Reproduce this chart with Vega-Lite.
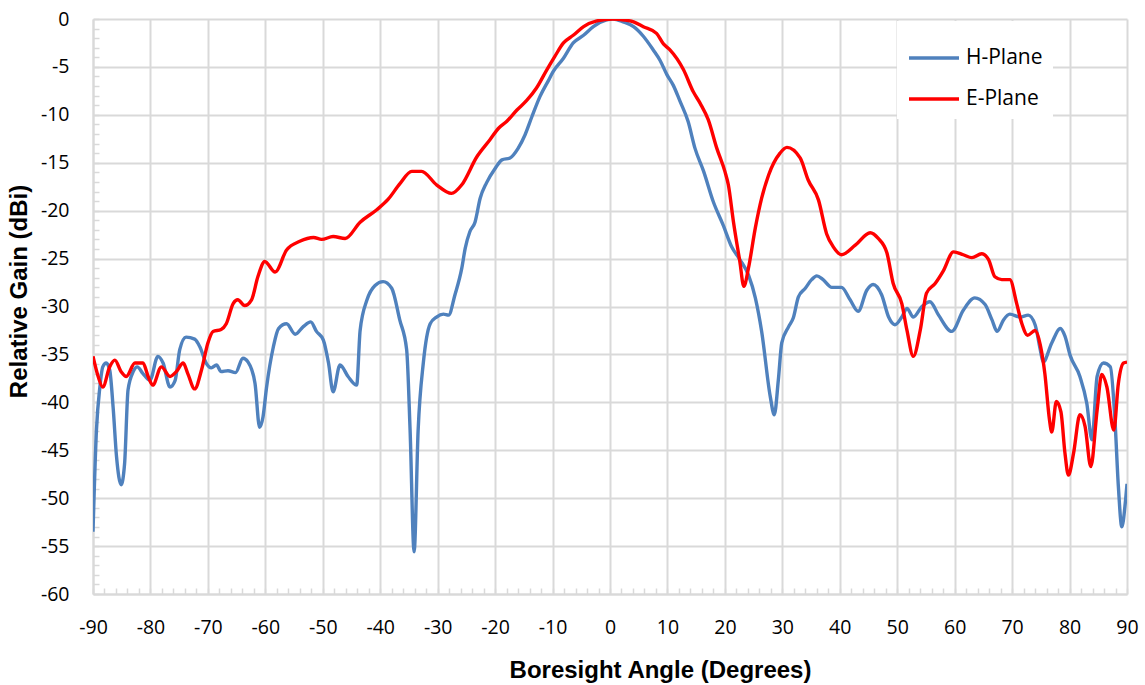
{
  "$schema": "https://vega.github.io/schema/vega-lite/v6.json",
  "width": 1034,
  "height": 575,
  "autosize": "none",
  "padding": {"left": 93, "top": 19, "right": 18, "bottom": 91},
  "background": "white",
  "config": {"view": {"stroke": null}, "font": "Open Sans"},
  "data": {"values": [
      {"plane": "H-Plane", "angle": -90, "gain": -53.5}, {"plane": "H-Plane", "angle": -89.4, "gain": -42.9}, {"plane": "H-Plane", "angle": -88.8, "gain": -38.4}, {"plane": "H-Plane", "angle": -88.3, "gain": -36.3},
      {"plane": "H-Plane", "angle": -87.7, "gain": -35.9}, {"plane": "H-Plane", "angle": -87.1, "gain": -36.6}, {"plane": "H-Plane", "angle": -86.5, "gain": -40.5}, {"plane": "H-Plane", "angle": -85.9, "gain": -45.7},
      {"plane": "H-Plane", "angle": -85.1, "gain": -48.6}, {"plane": "H-Plane", "angle": -84.5, "gain": -46.4}, {"plane": "H-Plane", "angle": -83.9, "gain": -38.7}, {"plane": "H-Plane", "angle": -83.0, "gain": -36.8},
      {"plane": "H-Plane", "angle": -82.3, "gain": -36.3}, {"plane": "H-Plane", "angle": -81.3, "gain": -37.0}, {"plane": "H-Plane", "angle": -80.1, "gain": -37.7}, {"plane": "H-Plane", "angle": -78.7, "gain": -35.2},
      {"plane": "H-Plane", "angle": -77.8, "gain": -35.9}, {"plane": "H-Plane", "angle": -76.6, "gain": -38.4}, {"plane": "H-Plane", "angle": -75.7, "gain": -37.7}, {"plane": "H-Plane", "angle": -74.9, "gain": -34.5},
      {"plane": "H-Plane", "angle": -73.8, "gain": -33.2}, {"plane": "H-Plane", "angle": -72.3, "gain": -33.4}, {"plane": "H-Plane", "angle": -71.4, "gain": -34.2}, {"plane": "H-Plane", "angle": -70.3, "gain": -35.9},
      {"plane": "H-Plane", "angle": -69.4, "gain": -36.4}, {"plane": "H-Plane", "angle": -68.5, "gain": -36.1}, {"plane": "H-Plane", "angle": -67.7, "gain": -36.8}, {"plane": "H-Plane", "angle": -66.5, "gain": -36.7},
      {"plane": "H-Plane", "angle": -65.2, "gain": -36.9}, {"plane": "H-Plane", "angle": -63.9, "gain": -35.4}, {"plane": "H-Plane", "angle": -63.0, "gain": -35.8}, {"plane": "H-Plane", "angle": -61.8, "gain": -38.0},
      {"plane": "H-Plane", "angle": -61.0, "gain": -42.6}, {"plane": "H-Plane", "angle": -60.4, "gain": -41.5}, {"plane": "H-Plane", "angle": -59.8, "gain": -38.5}, {"plane": "H-Plane", "angle": -58.6, "gain": -34.2},
      {"plane": "H-Plane", "angle": -57.7, "gain": -32.3}, {"plane": "H-Plane", "angle": -56.3, "gain": -31.8}, {"plane": "H-Plane", "angle": -54.8, "gain": -32.9}, {"plane": "H-Plane", "angle": -53.4, "gain": -32.1},
      {"plane": "H-Plane", "angle": -52.1, "gain": -31.6}, {"plane": "H-Plane", "angle": -51.1, "gain": -32.6}, {"plane": "H-Plane", "angle": -49.9, "gain": -33.5}, {"plane": "H-Plane", "angle": -49.0, "gain": -35.9},
      {"plane": "H-Plane", "angle": -48.2, "gain": -38.9}, {"plane": "H-Plane", "angle": -47.0, "gain": -36.1}, {"plane": "H-Plane", "angle": -45.6, "gain": -37.3}, {"plane": "H-Plane", "angle": -44.1, "gain": -38.2},
      {"plane": "H-Plane", "angle": -43.5, "gain": -32.5}, {"plane": "H-Plane", "angle": -42.3, "gain": -29.3}, {"plane": "H-Plane", "angle": -40.9, "gain": -27.8}, {"plane": "H-Plane", "angle": -39.5, "gain": -27.4},
      {"plane": "H-Plane", "angle": -38.0, "gain": -28.1}, {"plane": "H-Plane", "angle": -36.6, "gain": -31.4}, {"plane": "H-Plane", "angle": -35.4, "gain": -34.5}, {"plane": "H-Plane", "angle": -34.8, "gain": -42.9},
      {"plane": "H-Plane", "angle": -34.1, "gain": -55.6}, {"plane": "H-Plane", "angle": -33.4, "gain": -42.9}, {"plane": "H-Plane", "angle": -32.5, "gain": -35.9}, {"plane": "H-Plane", "angle": -31.3, "gain": -31.8},
      {"plane": "H-Plane", "angle": -30.2, "gain": -31.1}, {"plane": "H-Plane", "angle": -29.0, "gain": -30.8}, {"plane": "H-Plane", "angle": -28.1, "gain": -30.9}, {"plane": "H-Plane", "angle": -27.0, "gain": -28.8},
      {"plane": "H-Plane", "angle": -25.8, "gain": -26.0}, {"plane": "H-Plane", "angle": -25.2, "gain": -23.9}, {"plane": "H-Plane", "angle": -24.4, "gain": -22.2}, {"plane": "H-Plane", "angle": -23.5, "gain": -21.2},
      {"plane": "H-Plane", "angle": -22.6, "gain": -18.7}, {"plane": "H-Plane", "angle": -21.5, "gain": -17.1}, {"plane": "H-Plane", "angle": -20.0, "gain": -15.6}, {"plane": "H-Plane", "angle": -18.8, "gain": -14.7},
      {"plane": "H-Plane", "angle": -17.4, "gain": -14.5}, {"plane": "H-Plane", "angle": -16.0, "gain": -13.5}, {"plane": "H-Plane", "angle": -14.8, "gain": -12.1}, {"plane": "H-Plane", "angle": -13.6, "gain": -10.2},
      {"plane": "H-Plane", "angle": -12.2, "gain": -8.1}, {"plane": "H-Plane", "angle": -10.7, "gain": -6.4}, {"plane": "H-Plane", "angle": -9.9, "gain": -5.5}, {"plane": "H-Plane", "angle": -8.1, "gain": -4.1},
      {"plane": "H-Plane", "angle": -6.4, "gain": -2.5}, {"plane": "H-Plane", "angle": -4.6, "gain": -1.7}, {"plane": "H-Plane", "angle": -2.9, "gain": -0.8}, {"plane": "H-Plane", "angle": -0.6, "gain": -0.1},
      {"plane": "H-Plane", "angle": 0.5, "gain": 0}, {"plane": "H-Plane", "angle": 2.3, "gain": -0.3}, {"plane": "H-Plane", "angle": 4.1, "gain": -0.8}, {"plane": "H-Plane", "angle": 5.8, "gain": -1.8},
      {"plane": "H-Plane", "angle": 7.5, "gain": -3.2}, {"plane": "H-Plane", "angle": 8.7, "gain": -4.3}, {"plane": "H-Plane", "angle": 9.9, "gain": -5.8}, {"plane": "H-Plane", "angle": 11.0, "gain": -6.9},
      {"plane": "H-Plane", "angle": 12.2, "gain": -8.6}, {"plane": "H-Plane", "angle": 13.6, "gain": -10.7}, {"plane": "H-Plane", "angle": 14.8, "gain": -13.5}, {"plane": "H-Plane", "angle": 16.3, "gain": -15.9},
      {"plane": "H-Plane", "angle": 18.0, "gain": -19.1}, {"plane": "H-Plane", "angle": 19.7, "gain": -21.5}, {"plane": "H-Plane", "angle": 21.2, "gain": -23.8}, {"plane": "H-Plane", "angle": 22.6, "gain": -25.1},
      {"plane": "H-Plane", "angle": 24.1, "gain": -26.7}, {"plane": "H-Plane", "angle": 25.3, "gain": -29.1}, {"plane": "H-Plane", "angle": 26.4, "gain": -32.6}, {"plane": "H-Plane", "angle": 27.9, "gain": -39.4},
      {"plane": "H-Plane", "angle": 28.6, "gain": -41.3}, {"plane": "H-Plane", "angle": 29.3, "gain": -37.7}, {"plane": "H-Plane", "angle": 29.9, "gain": -33.8}, {"plane": "H-Plane", "angle": 31.1, "gain": -32.1},
      {"plane": "H-Plane", "angle": 31.9, "gain": -31.2}, {"plane": "H-Plane", "angle": 32.8, "gain": -29.0}, {"plane": "H-Plane", "angle": 34.0, "gain": -28.1}, {"plane": "H-Plane", "angle": 35.1, "gain": -27.2},
      {"plane": "H-Plane", "angle": 36.0, "gain": -26.8}, {"plane": "H-Plane", "angle": 37.1, "gain": -27.2}, {"plane": "H-Plane", "angle": 38.6, "gain": -28.0}, {"plane": "H-Plane", "angle": 40.3, "gain": -28.0},
      {"plane": "H-Plane", "angle": 41.8, "gain": -29.3}, {"plane": "H-Plane", "angle": 43.2, "gain": -30.5}, {"plane": "H-Plane", "angle": 44.7, "gain": -28.3}, {"plane": "H-Plane", "angle": 45.8, "gain": -27.7},
      {"plane": "H-Plane", "angle": 47.3, "gain": -28.8}, {"plane": "H-Plane", "angle": 48.5, "gain": -31.1}, {"plane": "H-Plane", "angle": 49.6, "gain": -31.9}, {"plane": "H-Plane", "angle": 50.8, "gain": -31.1},
      {"plane": "H-Plane", "angle": 51.7, "gain": -30.2}, {"plane": "H-Plane", "angle": 52.8, "gain": -31.1}, {"plane": "H-Plane", "angle": 54.3, "gain": -30.0}, {"plane": "H-Plane", "angle": 55.7, "gain": -29.5},
      {"plane": "H-Plane", "angle": 57.2, "gain": -30.9}, {"plane": "H-Plane", "angle": 59.5, "gain": -32.6}, {"plane": "H-Plane", "angle": 61.5, "gain": -30.4}, {"plane": "H-Plane", "angle": 63.5, "gain": -29.1},
      {"plane": "H-Plane", "angle": 65.3, "gain": -29.8}, {"plane": "H-Plane", "angle": 66.5, "gain": -31.4}, {"plane": "H-Plane", "angle": 67.4, "gain": -32.6}, {"plane": "H-Plane", "angle": 68.5, "gain": -31.4},
      {"plane": "H-Plane", "angle": 69.6, "gain": -30.8}, {"plane": "H-Plane", "angle": 71.4, "gain": -31.1}, {"plane": "H-Plane", "angle": 72.8, "gain": -30.9}, {"plane": "H-Plane", "angle": 74.0, "gain": -31.9},
      {"plane": "H-Plane", "angle": 74.9, "gain": -34.5}, {"plane": "H-Plane", "angle": 75.4, "gain": -35.8}, {"plane": "H-Plane", "angle": 76.9, "gain": -33.8}, {"plane": "H-Plane", "angle": 78.4, "gain": -32.3},
      {"plane": "H-Plane", "angle": 79.2, "gain": -33.1}, {"plane": "H-Plane", "angle": 80.1, "gain": -35.1}, {"plane": "H-Plane", "angle": 81.8, "gain": -37.3}, {"plane": "H-Plane", "angle": 83.0, "gain": -40.1},
      {"plane": "H-Plane", "angle": 83.9, "gain": -43.9}, {"plane": "H-Plane", "angle": 84.8, "gain": -37.3}, {"plane": "H-Plane", "angle": 85.9, "gain": -35.9}, {"plane": "H-Plane", "angle": 87.1, "gain": -36.3},
      {"plane": "H-Plane", "angle": 87.9, "gain": -41.8}, {"plane": "H-Plane", "angle": 88.5, "gain": -48.8}, {"plane": "H-Plane", "angle": 89.1, "gain": -53.0}, {"plane": "H-Plane", "angle": 89.7, "gain": -50.5},
      {"plane": "H-Plane", "angle": 90.0, "gain": -48.5},
      {"plane": "E-Plane", "angle": -90, "gain": -35.2}, {"plane": "E-Plane", "angle": -89.1, "gain": -37.3}, {"plane": "E-Plane", "angle": -88.3, "gain": -38.4}, {"plane": "E-Plane", "angle": -87.1, "gain": -36.3},
      {"plane": "E-Plane", "angle": -86.2, "gain": -35.6}, {"plane": "E-Plane", "angle": -85.1, "gain": -36.8}, {"plane": "E-Plane", "angle": -84.2, "gain": -37.3}, {"plane": "E-Plane", "angle": -82.7, "gain": -35.9},
      {"plane": "E-Plane", "angle": -81.3, "gain": -35.9}, {"plane": "E-Plane", "angle": -80.4, "gain": -37.3}, {"plane": "E-Plane", "angle": -79.6, "gain": -38.2}, {"plane": "E-Plane", "angle": -78.1, "gain": -36.3},
      {"plane": "E-Plane", "angle": -76.6, "gain": -37.3}, {"plane": "E-Plane", "angle": -75.5, "gain": -36.8}, {"plane": "E-Plane", "angle": -74.3, "gain": -35.9}, {"plane": "E-Plane", "angle": -73.5, "gain": -37.0},
      {"plane": "E-Plane", "angle": -72.3, "gain": -38.6}, {"plane": "E-Plane", "angle": -71.1, "gain": -36.6}, {"plane": "E-Plane", "angle": -70.0, "gain": -33.8}, {"plane": "E-Plane", "angle": -69.1, "gain": -32.6},
      {"plane": "E-Plane", "angle": -67.7, "gain": -32.4}, {"plane": "E-Plane", "angle": -66.8, "gain": -31.8}, {"plane": "E-Plane", "angle": -65.6, "gain": -29.7}, {"plane": "E-Plane", "angle": -64.8, "gain": -29.3},
      {"plane": "E-Plane", "angle": -63.6, "gain": -29.9}, {"plane": "E-Plane", "angle": -62.4, "gain": -29.3}, {"plane": "E-Plane", "angle": -61.3, "gain": -26.9}, {"plane": "E-Plane", "angle": -60.1, "gain": -25.3},
      {"plane": "E-Plane", "angle": -58.3, "gain": -26.4}, {"plane": "E-Plane", "angle": -56.3, "gain": -24.1}, {"plane": "E-Plane", "angle": -54.0, "gain": -23.2}, {"plane": "E-Plane", "angle": -51.6, "gain": -22.8},
      {"plane": "E-Plane", "angle": -50.2, "gain": -23.0}, {"plane": "E-Plane", "angle": -48.2, "gain": -22.7}, {"plane": "E-Plane", "angle": -46.1, "gain": -22.9}, {"plane": "E-Plane", "angle": -43.5, "gain": -21.2},
      {"plane": "E-Plane", "angle": -40.6, "gain": -19.9}, {"plane": "E-Plane", "angle": -38.6, "gain": -18.8}, {"plane": "E-Plane", "angle": -36.6, "gain": -17.2}, {"plane": "E-Plane", "angle": -34.5, "gain": -15.9},
      {"plane": "E-Plane", "angle": -32.8, "gain": -15.9}, {"plane": "E-Plane", "angle": -30.2, "gain": -17.3}, {"plane": "E-Plane", "angle": -27.6, "gain": -18.2}, {"plane": "E-Plane", "angle": -25.8, "gain": -17.3},
      {"plane": "E-Plane", "angle": -23.2, "gain": -14.4}, {"plane": "E-Plane", "angle": -20.9, "gain": -12.6}, {"plane": "E-Plane", "angle": -19.4, "gain": -11.4}, {"plane": "E-Plane", "angle": -18.0, "gain": -10.7},
      {"plane": "E-Plane", "angle": -16.2, "gain": -9.5}, {"plane": "E-Plane", "angle": -14.5, "gain": -8.5}, {"plane": "E-Plane", "angle": -12.8, "gain": -7.2}, {"plane": "E-Plane", "angle": -11.0, "gain": -5.3},
      {"plane": "E-Plane", "angle": -9.6, "gain": -3.9}, {"plane": "E-Plane", "angle": -8.1, "gain": -2.5}, {"plane": "E-Plane", "angle": -6.4, "gain": -1.7}, {"plane": "E-Plane", "angle": -4.6, "gain": -0.8},
      {"plane": "E-Plane", "angle": -2.3, "gain": -0.2}, {"plane": "E-Plane", "angle": 0.5, "gain": 0}, {"plane": "E-Plane", "angle": 2.5, "gain": -0.1}, {"plane": "E-Plane", "angle": 4.1, "gain": -0.3},
      {"plane": "E-Plane", "angle": 5.8, "gain": -0.8}, {"plane": "E-Plane", "angle": 8.1, "gain": -1.5}, {"plane": "E-Plane", "angle": 9.3, "gain": -2.6}, {"plane": "E-Plane", "angle": 10.4, "gain": -3.2},
      {"plane": "E-Plane", "angle": 12.8, "gain": -5.3}, {"plane": "E-Plane", "angle": 14.5, "gain": -7.6}, {"plane": "E-Plane", "angle": 15.7, "gain": -8.8}, {"plane": "E-Plane", "angle": 17.1, "gain": -10.5},
      {"plane": "E-Plane", "angle": 18.6, "gain": -13.5}, {"plane": "E-Plane", "angle": 20.0, "gain": -15.9}, {"plane": "E-Plane", "angle": 20.6, "gain": -17.3}, {"plane": "E-Plane", "angle": 21.5, "gain": -21.2},
      {"plane": "E-Plane", "angle": 22.6, "gain": -25.3}, {"plane": "E-Plane", "angle": 23.3, "gain": -27.9}, {"plane": "E-Plane", "angle": 24.1, "gain": -26.0}, {"plane": "E-Plane", "angle": 25.3, "gain": -21.8},
      {"plane": "E-Plane", "angle": 26.4, "gain": -18.7}, {"plane": "E-Plane", "angle": 27.6, "gain": -16.3}, {"plane": "E-Plane", "angle": 29.6, "gain": -14.0}, {"plane": "E-Plane", "angle": 30.8, "gain": -13.4},
      {"plane": "E-Plane", "angle": 33.1, "gain": -14.5}, {"plane": "E-Plane", "angle": 34.5, "gain": -16.8}, {"plane": "E-Plane", "angle": 36.3, "gain": -18.9}, {"plane": "E-Plane", "angle": 37.7, "gain": -22.4},
      {"plane": "E-Plane", "angle": 38.9, "gain": -23.8}, {"plane": "E-Plane", "angle": 40.3, "gain": -24.6}, {"plane": "E-Plane", "angle": 42.7, "gain": -23.6}, {"plane": "E-Plane", "angle": 45.3, "gain": -22.3},
      {"plane": "E-Plane", "angle": 46.7, "gain": -22.9}, {"plane": "E-Plane", "angle": 48.2, "gain": -24.4}, {"plane": "E-Plane", "angle": 49.3, "gain": -27.6}, {"plane": "E-Plane", "angle": 50.8, "gain": -29.7},
      {"plane": "E-Plane", "angle": 51.7, "gain": -32.5}, {"plane": "E-Plane", "angle": 52.8, "gain": -35.2}, {"plane": "E-Plane", "angle": 54.0, "gain": -32.5}, {"plane": "E-Plane", "angle": 55.1, "gain": -28.6},
      {"plane": "E-Plane", "angle": 56.6, "gain": -27.6}, {"plane": "E-Plane", "angle": 58.0, "gain": -26.3}, {"plane": "E-Plane", "angle": 59.8, "gain": -24.3}, {"plane": "E-Plane", "angle": 61.5, "gain": -24.6},
      {"plane": "E-Plane", "angle": 63.0, "gain": -24.9}, {"plane": "E-Plane", "angle": 64.7, "gain": -24.5}, {"plane": "E-Plane", "angle": 65.9, "gain": -25.1}, {"plane": "E-Plane", "angle": 67.0, "gain": -26.9},
      {"plane": "E-Plane", "angle": 68.2, "gain": -27.2}, {"plane": "E-Plane", "angle": 69.6, "gain": -27.2}, {"plane": "E-Plane", "angle": 70.8, "gain": -29.7}, {"plane": "E-Plane", "angle": 71.7, "gain": -31.8},
      {"plane": "E-Plane", "angle": 72.7, "gain": -33.0}, {"plane": "E-Plane", "angle": 74.0, "gain": -32.5}, {"plane": "E-Plane", "angle": 74.9, "gain": -34.0}, {"plane": "E-Plane", "angle": 75.7, "gain": -37.0},
      {"plane": "E-Plane", "angle": 76.5, "gain": -41.8}, {"plane": "E-Plane", "angle": 76.9, "gain": -43.1}, {"plane": "E-Plane", "angle": 77.7, "gain": -39.9}, {"plane": "E-Plane", "angle": 78.5, "gain": -41.0},
      {"plane": "E-Plane", "angle": 79.2, "gain": -45.3}, {"plane": "E-Plane", "angle": 79.8, "gain": -47.6}, {"plane": "E-Plane", "angle": 80.7, "gain": -45.3}, {"plane": "E-Plane", "angle": 81.8, "gain": -41.3},
      {"plane": "E-Plane", "angle": 82.7, "gain": -42.5}, {"plane": "E-Plane", "angle": 83.7, "gain": -46.7}, {"plane": "E-Plane", "angle": 84.8, "gain": -40.8}, {"plane": "E-Plane", "angle": 85.6, "gain": -37.1},
      {"plane": "E-Plane", "angle": 86.5, "gain": -38.4}, {"plane": "E-Plane", "angle": 87.7, "gain": -42.9}, {"plane": "E-Plane", "angle": 88.5, "gain": -38.0}, {"plane": "E-Plane", "angle": 89.4, "gain": -35.9},
      {"plane": "E-Plane", "angle": 90.0, "gain": -35.8}
  ]},
  "layer": [
    {
      "transform": [{"filter": "datum.plane === 'H-Plane'"}],
      "mark": {"type": "line", "strokeWidth": 3.4, "interpolate": "monotone", "clip": true},
      "encoding": {
        "x": {
          "field": "angle", "type": "quantitative",
          "scale": {"domain": [-90, 90], "nice": false, "zero": false},
          "axis": {
            "title": "Boresight Angle (Degrees)",
            "values": [-90,-88,-86,-84,-82,-80,-78,-76,-74,-72,-70,-68,-66,-64,-62,-60,-58,-56,-54,-52,-50,-48,-46,-44,-42,-40,-38,-36,-34,-32,-30,-28,-26,-24,-22,-20,-18,-16,-14,-12,-10,-8,-6,-4,-2,0,2,4,6,8,10,12,14,16,18,20,22,24,26,28,30,32,34,36,38,40,42,44,46,48,50,52,54,56,58,60,62,64,66,68,70,72,74,76,78,80,82,84,86,88,90],
            "tickCount": 500,
            "labelExpr": "datum.value % 10 === 0 ? toString(datum.value) : ''",
            "labelOverlap": false,
            "labelFlush": false,
            "labelFont": "Open Sans",
            "labelFontSize": 19.5,
            "labelColor": "#000000",
            "labelPadding": 30,
            "grid": true,
            "gridColor": "#D9D9D9",
            "gridWidth": 2,
            "gridOpacity": {"condition": {"test": "datum.value % 10 === 0", "value": 1}, "value": 0},
            "domainColor": "#D9D9D9",
            "domainWidth": 2,
            "tickColor": "#D9D9D9",
            "tickWidth": 1.5,
            "tickSize": -6,
            "titleFont": "Liberation Sans",
            "titleFontSize": 24,
            "titleFontWeight": "bold",
            "titleColor": "#000000",
            "titleX": 567,
            "titleY": 83,
            "titleBaseline": "alphabetic"
          }
        },
        "y": {
          "field": "gain", "type": "quantitative",
          "scale": {"domain": [-60, 0], "nice": false, "zero": false},
          "axis": {
            "title": "Relative Gain (dBi)",
            "values": [0,-1,-2,-3,-4,-5,-6,-7,-8,-9,-10,-11,-12,-13,-14,-15,-16,-17,-18,-19,-20,-21,-22,-23,-24,-25,-26,-27,-28,-29,-30,-31,-32,-33,-34,-35,-36,-37,-38,-39,-40,-41,-42,-43,-44,-45,-46,-47,-48,-49,-50,-51,-52,-53,-54,-55,-56,-57,-58,-59,-60],
            "tickCount": 500,
            "labelExpr": "datum.value % 5 === 0 ? toString(datum.value) : ''",
            "labelOverlap": false,
            "labelFlush": false,
            "labelFont": "Open Sans",
            "labelFontSize": 19.5,
            "labelColor": "#000000",
            "labelPadding": 30,
            "grid": true,
            "gridColor": "#D9D9D9",
            "gridWidth": 2,
            "gridOpacity": {"condition": {"test": "datum.value % 5 === 0", "value": 1}, "value": 0},
            "domainColor": "#D9D9D9",
            "domainWidth": 2,
            "tickColor": "#D9D9D9",
            "tickWidth": 1.5,
            "tickSize": -6,
            "titleFont": "Liberation Sans",
            "titleFontSize": 24,
            "titleFontWeight": "bold",
            "titleColor": "#000000",
            "titleX": -67,
            "titleY": 272,
            "titleBaseline": "alphabetic"
          }
        },
        "color": {
          "field": "plane", "type": "nominal",
          "scale": {"domain": ["H-Plane", "E-Plane"], "range": ["#4F81BD", "#FF0000"]},
          "legend": {
            "title": null,
            "orient": "none",
            "legendX": 804,
            "legendY": 2,
            "symbolType": "stroke",
            "symbolSize": 2500,
            "symbolStrokeWidth": 3.4,
            "labelFont": "Open Sans",
            "labelFontSize": 21,
            "labelColor": "#000000",
            "labelOffset": 5,
            "fillColor": "white",
            "padding": 10,
            "rowPadding": 4
          }
        }
      }
    },
    {
      "transform": [{"filter": "datum.plane === 'E-Plane'"}],
      "mark": {"type": "line", "strokeWidth": 3.4, "interpolate": "monotone", "clip": true},
      "encoding": {
        "x": {"field": "angle", "type": "quantitative"},
        "y": {"field": "gain", "type": "quantitative"},
        "color": {"field": "plane", "type": "nominal"}
      }
    }
  ]
}
